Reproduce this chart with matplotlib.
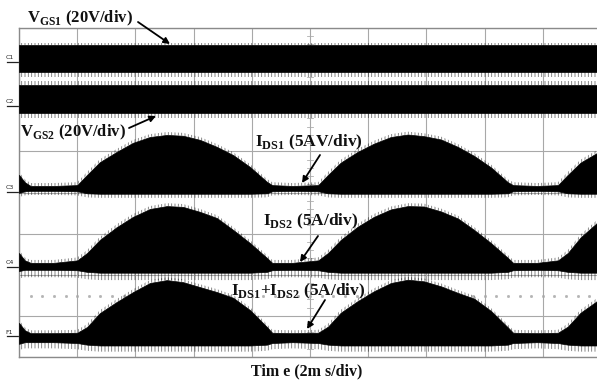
import numpy as np
import matplotlib
matplotlib.use("Agg")
import matplotlib.pyplot as plt
from matplotlib.transforms import blended_transform_factory

plt.rcParams["mathtext.fontset"] = "custom"
plt.rcParams["mathtext.rm"] = "Liberation Serif:bold"
plt.rcParams["mathtext.bf"] = "Liberation Serif:bold"
plt.rcParams["hatch.linewidth"] = 0.6

# ---- time base (ms), 2 ms/div over 10 divisions ----
t_ms = [0.0, 0.2, 0.4, 1.2, 2.0, 2.34, 2.78, 3.36, 3.92, 4.5, 5.08, 5.64, 6.22,
        6.8, 7.36, 7.94, 8.52, 8.7, 9.4, 10.28, 10.62, 11.06, 11.64, 12.2,
        12.78, 13.36, 13.92, 14.5, 15.08, 15.64, 16.22, 16.8, 16.98, 17.8,
        18.52, 18.86, 19.3, 19.86, 20.0]

# gate-source voltage bands (V): switching too fast to resolve at 2 ms/div
vgs1_high, vgs1_low = 8.2, -5.0
vgs2_high, vgs2_low = 10.2, -3.4

# drain current envelopes (A)
ids1_upper = [2.1, 1.2, 0.75, 0.75, 0.85, 2.1, 3.65, 4.9, 6.0, 6.7, 6.95, 6.85,
              6.35, 5.5, 4.5, 3.05, 1.25, 0.85, 0.75, 0.85, 2.1, 3.6, 4.9, 5.9,
              6.7, 7.0, 6.8, 6.4, 5.5, 4.4, 3.0, 1.2, 0.85, 0.75, 0.85, 2.1,
              3.6, 4.75, 5.0]
ids1_lower = [-0.1, 0.1, 0.15, 0.15, 0.1, -0.15, -0.2, -0.2, -0.2, -0.2, -0.2,
              -0.2, -0.2, -0.2, -0.2, -0.2, -0.15, 0.1, 0.15, 0.1, -0.15, -0.2,
              -0.2, -0.2, -0.2, -0.2, -0.2, -0.2, -0.2, -0.2, -0.2, -0.15, 0.1,
              0.15, 0.1, -0.15, -0.2, -0.2, -0.2]

ids2_upper = [1.7, 0.8, 0.5, 0.5, 0.8, 1.7, 3.3, 4.85, 6.1, 7.05, 7.4, 7.3,
              6.7, 5.95, 4.5, 2.9, 1.1, 0.5, 0.5, 0.8, 1.7, 3.3, 4.9, 6.1, 7.0,
              7.4, 7.35, 6.75, 5.9, 4.5, 2.9, 1.1, 0.5, 0.5, 0.8, 1.7, 3.6,
              5.35, 5.6]
ids2_lower = [-0.5, -0.35, -0.35, -0.35, -0.4, -0.6, -0.7, -0.7, -0.7, -0.7,
              -0.7, -0.7, -0.7, -0.7, -0.7, -0.7, -0.6, -0.4, -0.35, -0.4, -0.6,
              -0.7, -0.7, -0.7, -0.7, -0.7, -0.7, -0.7, -0.7, -0.7, -0.7, -0.6,
              -0.4, -0.35, -0.4, -0.6, -0.7, -0.7, -0.7]

isum_upper = [1.65, 0.75, 0.4, 0.4, 0.45, 1.15, 2.85, 4.2, 5.4, 6.5, 6.85, 6.6,
              6.0, 5.4, 4.7, 3.2, 1.15, 0.45, 0.4, 0.45, 1.2, 2.9, 4.3, 5.5, 6.5,
              6.9, 6.7, 6.1, 5.3, 4.6, 3.1, 1.1, 0.45, 0.4, 0.45, 1.2, 2.9, 4.3,
              4.6]
isum_lower = [-0.9, -0.7, -0.7, -0.7, -0.8, -1.0, -1.1, -1.1, -1.1, -1.1, -1.1,
              -1.1, -1.1, -1.1, -1.1, -1.1, -1.0, -0.8, -0.7, -0.8, -1.0, -1.1,
              -1.1, -1.1, -1.1, -1.1, -1.1, -1.1, -1.1, -1.1, -1.1, -1.0, -0.8,
              -0.7, -0.8, -1.0, -1.1, -1.1, -1.1]

# channel ground markers (div from bottom) and sensitivities
channels = ["C1", "C2", "C3", "C4", "F1"]
grounds = [7.18, 6.11, 4.01, 2.19, 0.50]
volts_per_div = 20.0
amps_per_div = 5.0

W, H = 597, 387
fig = plt.figure(figsize=(W / 100, H / 100), dpi=100)
ax = fig.add_axes([19 / W, 30 / H, 582 / W, 329 / H])
ax.set_xlim(0, 20)
ax.set_ylim(0, 8)

# graticule
ax.set_xticks(np.arange(0, 21, 2))
ax.set_yticks(np.arange(0, 9, 1))
ax.grid(True, color="#a8a8a8", lw=0.8, zorder=0)
ax.tick_params(length=0, labelbottom=False, labelleft=False)
for s in ax.spines.values():
    s.set_color("#8a8a8a")
    s.set_linewidth(1.0)
for yy in np.arange(0, 8.01, 0.2):
    ax.plot([9.9, 10.1], [yy, yy], color="#b0b0b0", lw=0.6, zorder=0)
dot_x = np.arange(0.4, 20, 0.4)
ax.plot(dot_x, np.full(len(dot_x), 1.48), ls="none", marker="s", ms=1.0,
        color="#b4b4b4", zorder=0)


def draw_trace(t, upper, lower, ground, scale, fuzz_up, fuzz_dn):
    up = ground + np.asarray(upper, dtype=float) / scale
    lo = ground + np.asarray(lower, dtype=float) / scale
    ax.fill_between(t, lo, up, color="black", lw=0.5, zorder=3)
    ax.fill_between(t, up, up + fuzz_up, facecolor="none", edgecolor="black",
                    hatch="|||||", lw=0, alpha=0.55, zorder=3)
    ax.fill_between(t, lo - fuzz_dn, lo, facecolor="none", edgecolor="black",
                    hatch="|||||", lw=0, alpha=0.55, zorder=3)


t_gate = [0.0, 20.0]
draw_trace(t_gate, [vgs1_high] * 2, [vgs1_low] * 2, grounds[0], volts_per_div, 0.04, 0.12)
draw_trace(t_gate, [vgs2_high] * 2, [vgs2_low] * 2, grounds[1], volts_per_div, 0.1, 0.12)
draw_trace(t_ms, ids1_upper, ids1_lower, grounds[2], amps_per_div, 0.07, 0.1)
draw_trace(t_ms, ids2_upper, ids2_lower, grounds[3], amps_per_div, 0.07, 0.18)
draw_trace(t_ms, isum_upper, isum_lower, grounds[4], amps_per_div, 0.07, 0.15)

# channel markers on the left edge
bt = blended_transform_factory(ax.transAxes, ax.transData)
for name, g in zip(channels, grounds):
    ax.text(-9.5 / 582, g + 0.04, name, transform=bt, fontsize=4.5,
            ha="center", va="bottom", color="#222222", clip_on=False)
    ax.plot([-12 / 582, -1 / 582], [g, g], transform=bt, color="#222222",
            lw=0.9, clip_on=False)

# annotations
tfont = dict(family="Liberation Serif", fontweight="bold", fontsize=12,
             color="#111111")


def label(x, y, s, size=12):
    fig.text(x / W, 1 - y / H, s, ha="left", va="center",
             **{**tfont, "fontsize": size})


def arrow(x1, y1, x2, y2):
    ax.annotate("", xy=(x2, H - y2), xytext=(x1, H - y1),
                xycoords="figure pixels", textcoords="figure pixels",
                annotation_clip=False,
                arrowprops=dict(arrowstyle="-|>", color="black", lw=1.3,
                                mutation_scale=9, shrinkA=0, shrinkB=0))


label(27, 18, r"V$_{\mathrm{GS1}}$ (20V/div)", 12)
arrow(138, 22, 170, 44)
label(20, 132, r"V$_{\mathrm{GS2}}$ (20V/div)", 12)
arrow(129, 128, 156, 116)
label(255, 142, r"I$_{\mathrm{DS1}}$ (5AV/div)", 12.5)
arrow(320, 155, 302, 183)
label(263, 221, r"I$_{\mathrm{DS2}}$ (5A/div)", 12.5)
arrow(318, 236, 300, 262)
label(231, 291, r"I$_{\mathrm{DS1}}$+I$_{\mathrm{DS2}}$ (5A/div)", 12.5)
arrow(325, 300, 307, 329)
fig.text(307 / W, 1 - 371 / H, "Tim e (2m s/div)", ha="center", va="center",
         **{**tfont, "fontsize": 11.5})

fig.savefig("out.png", dpi=100)
